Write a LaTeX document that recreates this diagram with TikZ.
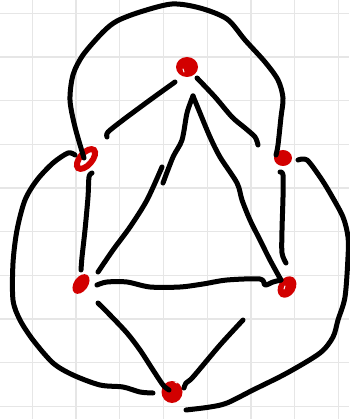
\documentclass[tikz,border=0pt]{standalone}
\usetikzlibrary{shapes.geometric}
\definecolor{inkred}{RGB}{210,0,0}
\definecolor{gridgray}{RGB}{230,230,230}
\tikzset{
  gridline/.style={draw=gridgray, line width=1.3pt},
  inkline/.style={draw=black, line width=5pt, line cap=round, line join=round},
  reddot/.style={ellipse, fill=inkred, inner sep=0pt}
}
\begin{document}
\begin{tikzpicture}[x=1pt,y=-1pt]
        \useasboundingbox (0,0) rectangle (349,419);
        \fill[white] (0,0) rectangle (349,419);

        \foreach \gx in {0,...,7}
          \draw[gridline] (32.4+43.7*\gx,0) -- (32.4+43.7*\gx,419);
        \foreach \gy in {0,...,9}
          \draw[gridline] (0,13.3+43.65*\gy) -- (349,13.3+43.65*\gy);

        \node[reddot, minimum width=22pt, minimum height=20pt] (top) at (187,67) {};
        \node[ellipse, draw=inkred, fill=white, line width=6pt, inner sep=0pt, minimum width=24pt, minimum height=12pt, rotate=49] (upleft) at (86,159) {};
        \node[reddot, minimum width=18pt, minimum height=16pt] (upright) at (283,158) {};
        \node[reddot, minimum width=22pt, minimum height=14pt, rotate=55] (lowleft) at (81,284) {};
        \node[reddot, minimum width=23pt, minimum height=17pt, rotate=58] (lowright) at (287,287) {};
        \node[reddot, minimum width=21pt, minimum height=22pt] (bottom) at (172,392) {};

        \draw[white, line width=1pt, line cap=round] (183,69) -- (184,72);
        \draw[white, line width=1pt, line cap=round] (284,289) -- (285,286);
        \draw[white, line width=1pt, line cap=round] (175,382) -- (177,383);

        \draw[inkline] plot[smooth] coordinates {(84,158) (75,127) (70,100) (73,75) (83,55) (103,32) (117,21) (140,12) (172,4) (200,8) (227,19) (245,40) (265,62) (278,80) (283,98) (281,117) (278,145) (276,155)};
        \draw[inkline] plot[smooth] coordinates {(175,82) (150,100) (123,120) (108,132) (107,137)};
        \draw[inkline] plot[smooth] coordinates {(197,78) (215,97) (232,117) (245,128) (255,137) (258,145)};

        \draw[inkline] plot[smooth] coordinates {(163,183) (173,157) (182,140) (187,113) (193,96)};
        \draw[inkline] plot[smooth] coordinates {(162,167) (147,200) (130,227) (113,250) (98,272)};
        \draw[inkline] plot[smooth] coordinates {(193,96) (200,113) (210,137) (220,157) (237,183) (242,200) (250,220) (260,240) (270,260) (281,280)};

        \draw[inkline] plot[smooth] coordinates {(92,173) (89,177) (88,197) (85,230) (82,257) (81,270)};
        \draw[inkline] plot[smooth] coordinates {(280,172) (283,175) (283,197) (282,230) (282,253) (286,263)};

        \draw[inkline] plot[smooth] coordinates {(97,285) (107,282) (127,282) (150,287) (180,287) (203,284) (227,280) (260,279) (265,285) (273,282) (281,280)};
        \draw[inkline] plot[smooth] coordinates {(98,303) (110,315) (127,333) (140,350) (153,370) (163,385) (169,390)};
        \draw[inkline] plot[smooth] coordinates {(243,320) (220,345) (193,377) (186,383) (184,388)};

        \draw[inkline] plot[smooth] coordinates {(75,155) (68,153) (53,163) (37,180) (25,200) (17,230) (13,263) (13,300) (20,320) (33,340) (53,363) (73,375) (100,385) (123,387) (140,392) (153,393)};
        \draw[inkline] plot[smooth] coordinates {(298,160) (307,160) (320,177) (330,193) (343,217) (348,237) (348,257) (345,297) (338,320) (333,337) (320,353) (287,373) (253,390) (227,403) (210,407) (186,410)};
        \end{tikzpicture}
\end{document}
